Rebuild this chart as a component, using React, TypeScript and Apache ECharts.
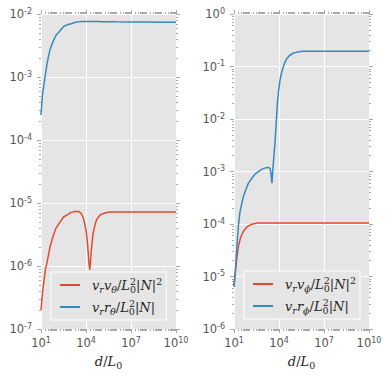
import React, { useEffect, useRef } from 'react';
import * as echarts from 'echarts';

// ---------- data ----------
const leftX = [10, 12.6, 15.8, 20, 25.1, 31.6, 39.8, 63.1, 100, 158, 316, 631, 1000, 2000, 3160, 3980, 5010, 6610, 8320, 10000, 12000, 14100, 15800, 17800, 20000, 22900, 29500, 39800, 50100, 70800, 1e5, 2e5, 3.98e5, 1e6, 1e7, 1e8, 1e9, 1e10];
const leftVV = [2.0e-7, 3.8e-7, 5.8e-7, 8.9e-7, 1.13e-6, 1.5e-6, 2.0e-6, 2.95e-6, 4.0e-6, 4.7e-6, 6.0e-6, 6.6e-6, 7.1e-6, 7.35e-6, 7.35e-6, 7.1e-6, 6.7e-6, 5.8e-6, 4.6e-6, 3.7e-6, 2.6e-6, 1.6e-6, 1.1e-6, 8.7e-7, 1.2e-6, 1.8e-6, 3.3e-6, 4.5e-6, 5.4e-6, 6.1e-6, 6.6e-6, 7.0e-6, 7.2e-6, 7.2e-6, 7.2e-6, 7.2e-6, 7.2e-6, 7.2e-6];
const leftVR = [2.5e-4, 5.3e-4, 7.6e-4, 1.12e-3, 1.62e-3, 2.13e-3, 2.7e-3, 3.65e-3, 4.6e-3, 5.2e-3, 6.3e-3, 6.8e-3, 7.0e-3, 7.4e-3, 7.5e-3, 7.55e-3, 7.6e-3, 7.6e-3, 7.6e-3, 7.6e-3, 7.6e-3, 7.6e-3, 7.6e-3, 7.6e-3, 7.6e-3, 7.6e-3, 7.6e-3, 7.6e-3, 7.6e-3, 7.58e-3, 7.56e-3, 7.55e-3, 7.53e-3, 7.5e-3, 7.47e-3, 7.45e-3, 7.42e-3, 7.4e-3];

const rightX = [10, 12.6, 15.1, 19.5, 25.1, 32.4, 41.7, 63.1, 91.2, 158, 251, 398, 692, 1120, 1950, 2510, 2950, 3390, 3800, 4470, 5370, 6460, 7760, 9550, 11700, 15100, 19500, 25100, 32400, 50100, 91200, 2e5, 4.17e5, 1e6, 1e7, 1e8, 1e9, 1e10];
const rightVV = [6.4e-6, 1.3e-5, 2.1e-5, 3.7e-5, 5.0e-5, 6.2e-5, 7.2e-5, 8.4e-5, 9.2e-5, 9.9e-5, 1.02e-4, 1.04e-4, 1.05e-4, 1.05e-4, 1.05e-4, 1.05e-4, 1.05e-4, 1.05e-4, 1.05e-4, 1.05e-4, 1.05e-4, 1.05e-4, 1.05e-4, 1.05e-4, 1.05e-4, 1.05e-4, 1.05e-4, 1.05e-4, 1.05e-4, 1.05e-4, 1.05e-4, 1.05e-4, 1.05e-4, 1.05e-4, 1.05e-4, 1.05e-4, 1.05e-4, 1.05e-4];
const rightVR = [6.4e-6, 1.4e-5, 3.2e-5, 8.9e-5, 1.7e-4, 2.4e-4, 3.3e-4, 4.6e-4, 6.0e-4, 7.5e-4, 8.9e-4, 9.8e-4, 1.1e-3, 1.16e-3, 1.2e-3, 1.15e-3, 9.0e-4, 6.0e-4, 1.0e-3, 1.8e-3, 3.5e-3, 8.0e-3, 2.0e-2, 3.6e-2, 5.5e-2, 7.8e-2, 0.1, 0.12, 0.14, 0.162, 0.18, 0.19, 0.195, 0.196, 0.196, 0.196, 0.196, 0.196];

const seriesNames = ['vr vθ L0² N²', 'vr rθ L0² N', 'vr vφ L0² N²', 'vr rφ L0² N'];
const legendRich: Record<string, string> = {
  'vr vθ L0² N²': '{g| }{i|v}{si|r}{i|v}{si|θ}{u|/}{i|L}{sz|0}{p|2}{u||}{i|N}{u||}{p|2}',
  'vr rθ L0² N': '{g| }{i|v}{si|r}{i|r}{si|θ}{u|/}{i|L}{sz|0}{p|2}{u||}{i|N}{u||}',
  'vr vφ L0² N²': '{g| }{i|v}{si|r}{i|v}{si|ϕ}{u|/}{i|L}{sz|0}{p|2}{u||}{i|N}{u||}{p|2}',
  'vr rφ L0² N': '{g| }{i|v}{si|r}{i|r}{si|ϕ}{u|/}{i|L}{sz|0}{p|2}{u||}{i|N}{u||}',
};

const RED = '#E24A33';
const BLUE = '#348ABD';
const TICK = '#a8a8a8';
const LABEL = '#555555';
const TXT = '#262626';
const SERIF = 'DejaVu Serif';

const mathRich: any = {
  g: { fontSize: 10, width: 7, lineHeight: 18 },
  i: { fontFamily: SERIF, fontStyle: 'italic', fontSize: 13, color: TXT, lineHeight: 18 },
  u: { fontFamily: SERIF, fontSize: 13, color: TXT, lineHeight: 18 },
  si: { fontFamily: SERIF, fontStyle: 'italic', fontSize: 9.5, color: TXT, lineHeight: 12, verticalAlign: 'bottom' },
  sz: { fontFamily: SERIF, fontSize: 9.5, color: TXT, lineHeight: 12, verticalAlign: 'bottom', width: 0.1 },
  s0: { fontFamily: SERIF, fontSize: 9.5, color: TXT, lineHeight: 12, verticalAlign: 'bottom' },
  p: { fontFamily: SERIF, fontSize: 9.5, color: TXT, lineHeight: 12, verticalAlign: 'top' },
};

const tickRich: any = {
  b: { fontFamily: 'DejaVu Sans', fontSize: 11.5, color: LABEL, lineHeight: 14 },
  e: { fontFamily: 'DejaVu Sans', fontSize: 8, color: LABEL, lineHeight: 8, verticalAlign: 'top' },
};
const powLabel = (v: number) => `{b|10}{e|${Math.round(Math.log10(v))}}`;

const pairs = (xs: number[], ys: number[]) => xs.map((x, i) => [x, ys[i]]);

const grids = [
  { left: 41, top: 14, width: 135, height: 315, ymin: 1e-7, ymax: 1e-2 },
  { left: 234, top: 14, width: 135, height: 315, ymin: 1e-6, ymax: 1 },
];

function buildOption() {
  const xAxis: any[] = [];
  const yAxis: any[] = [];
  grids.forEach((g, gi) => {
    xAxis.push({
      type: 'log', logBase: 10, gridIndex: gi, min: 10, max: 1e10, interval: 3, position: 'bottom',
      axisLine: { show: false },
      axisTick: { show: true, length: 4, lineStyle: { color: TICK, width: 1 } },
      axisLabel: { show: true, formatter: powLabel, rich: tickRich, margin: 7, showMinLabel: true, showMaxLabel: true, hideOverlap: false },
      splitLine: { show: true, lineStyle: { color: '#ffffff', width: 1 } },
      name: '{i|d}{u|/}{i|L}{s0|0}', nameLocation: 'middle', nameGap: 23,
      nameTextStyle: { rich: mathRich },
    });
    xAxis.push({
      type: 'log', logBase: 10, gridIndex: gi, min: 10, max: 1e10, interval: 3, position: 'top',
      axisLine: { show: false },
      axisTick: { show: true, length: 4, lineStyle: { color: TICK, width: 1 } },
      axisLabel: { show: false }, splitLine: { show: false },
    });
    xAxis.push({
      type: 'log', logBase: 10, gridIndex: gi, min: 10, max: 1e10, position: 'bottom',
      axisLine: { show: false },
      axisTick: { show: true, length: 2, lineStyle: { color: TICK, width: 1 } },
      minorTick: { show: true, splitNumber: 9, length: 2, lineStyle: { color: TICK, width: 1 } },
      axisLabel: { show: false }, splitLine: { show: false },
    });
    xAxis.push({
      type: 'log', logBase: 10, gridIndex: gi, min: 10, max: 1e10, position: 'top',
      axisLine: { show: false },
      axisTick: { show: true, length: 2, lineStyle: { color: TICK, width: 1 } },
      minorTick: { show: true, splitNumber: 9, length: 2, lineStyle: { color: TICK, width: 1 } },
      axisLabel: { show: false }, splitLine: { show: false },
    });
    yAxis.push({
      type: 'log', logBase: 10, gridIndex: gi, min: g.ymin, max: g.ymax, position: 'left',
      axisLine: { show: false },
      axisTick: { show: true, length: 4, lineStyle: { color: TICK, width: 1 } },
      minorTick: { show: true, splitNumber: 9, length: 2, lineStyle: { color: TICK, width: 1 } },
      axisLabel: { show: true, formatter: powLabel, rich: tickRich, margin: 9, showMinLabel: true, showMaxLabel: true, hideOverlap: false },
      splitLine: { show: true, lineStyle: { color: '#ffffff', width: 1 } },
    });
    yAxis.push({
      type: 'log', logBase: 10, gridIndex: gi, min: g.ymin, max: g.ymax, position: 'right',
      axisLine: { show: false },
      axisTick: { show: true, length: 4, lineStyle: { color: TICK, width: 1 } },
      minorTick: { show: true, splitNumber: 9, length: 2, lineStyle: { color: TICK, width: 1 } },
      axisLabel: { show: false }, splitLine: { show: false },
    });
  });

  const mk = (name: string, xs: number[], ys: number[], color: string, gi: number) => ({
    name, type: 'line', xAxisIndex: gi * 4, yAxisIndex: gi * 2,
    data: pairs(xs, ys), showSymbol: false, symbol: 'none', smooth: false,
    lineStyle: { color, width: 1.5 }, itemStyle: { color }, z: 3,
  });

  const legendBase = {
    orient: 'vertical', icon: 'rect', itemWidth: 20, itemHeight: 2, itemGap: 4,
    backgroundColor: '#E5E5E5', borderColor: '#ffffff', borderWidth: 1, borderRadius: 0,
    padding: [4, 4, 4, 9],
    formatter: (n: string) => legendRich[n],
    textStyle: { rich: mathRich },
    selectedMode: false,
  };

  return {
    animation: false,
    backgroundColor: '#ffffff',
    textStyle: { fontFamily: 'DejaVu Sans' },
    grid: grids.map((g) => ({
      left: g.left, top: g.top, width: g.width, height: g.height,
      show: true, backgroundColor: '#E5E5E5', borderWidth: 0, containLabel: false, outerBoundsMode: 'none',
    })),
    xAxis, yAxis,
    legend: [
      { ...legendBase, left: 51, top: 272, data: [seriesNames[0], seriesNames[1]] },
      { ...legendBase, left: 244, top: 271, data: [seriesNames[2], seriesNames[3]] },
    ],
    series: [
      mk(seriesNames[0], leftX, leftVV, RED, 0),
      mk(seriesNames[1], leftX, leftVR, BLUE, 0),
      mk(seriesNames[2], rightX, rightVV, RED, 1),
      mk(seriesNames[3], rightX, rightVR, BLUE, 1),
    ],
  };
}

export default function App() {
  const ref = useRef<HTMLDivElement>(null);
  useEffect(() => {
    if (!ref.current) return;
    const chart = echarts.init(ref.current, undefined, { renderer: 'svg' });
    chart.setOption(buildOption() as any);
    return () => chart.dispose();
  }, []);
  return <div ref={ref} style={{ position: 'fixed', left: 0, top: 0, width: 390, height: 377 }} />;
}
